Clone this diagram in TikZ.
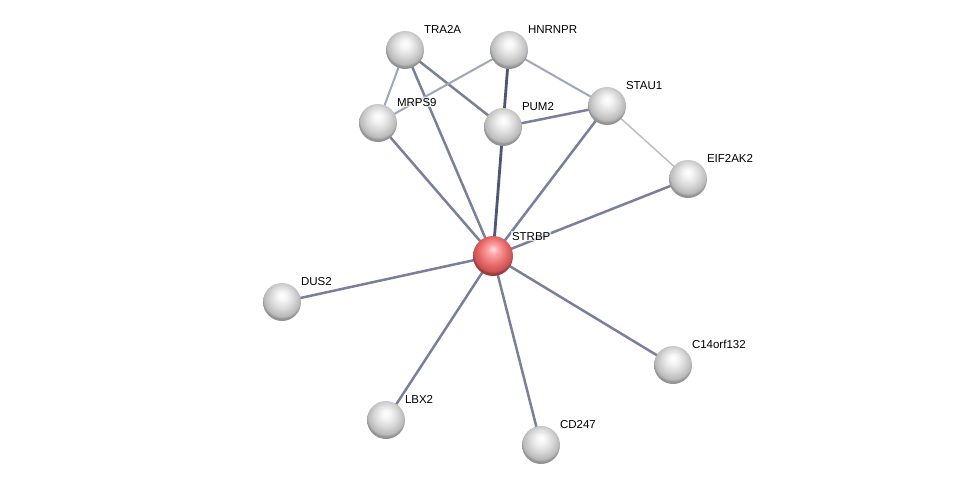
\documentclass[tikz,border=0pt]{standalone}
\usepackage{fontspec}
\setmainfont{Liberation Sans}
\pgfdeclareradialshading{glassgray}{\pgfpoint{0bp}{9bp}}{color(0bp)=(white); color(6bp)=(white!96!black); color(16bp)=(black!16); color(24bp)=(black!28); color(26bp)=(black!42); color(50bp)=(black!45)}
\pgfdeclareradialshading{glassred}{\pgfpoint{0bp}{9bp}}{color(0bp)=(red!12!white); color(6bp)=(red!35!white); color(16bp)=(red!52!white!92!black); color(24bp)=(red!60!white!80!black); color(26bp)=(red!60!white!60!black); color(50bp)=(red!60!white!55!black)}
\begin{document}
\begin{tikzpicture}[x=1pt,y=-1pt,
  prot/.style={circle,minimum size=38pt,inner sep=0pt,shading=glassgray},
  seed/.style={circle,minimum size=40pt,inner sep=0pt,shading=glassred},
  lab/.style={anchor=base west,inner sep=0.8pt,fill=white,fill opacity=0.7,text opacity=1,font=\fontsize{11.5}{13}\selectfont},
  strong/.style={draw={rgb,255:red,78;green,85;blue,118},line width=2.8pt},
  mid/.style={draw={rgb,255:red,122;green,128;blue,156},line width=2.5pt},
  weak/.style={draw={rgb,255:red,160;green,166;blue,186},line width=2pt},
  faint/.style={draw={rgb,255:red,185;green,188;blue,198},line width=1.4pt}]
\useasboundingbox (0,0) rectangle (975,491);
\fill[white] (0,0) rectangle (975,491);
\coordinate (cTRA2A) at (405,50);
\coordinate (cHNRNPR) at (509,50);
\coordinate (cMRPS9) at (378,123);
\coordinate (cPUM2) at (503,127);
\coordinate (cSTAU1) at (607,106);
\coordinate (cEIF2AK2) at (688,179);
\coordinate (cSTRBP) at (493,256);
\coordinate (cDUS2) at (282,302);
\coordinate (cC14) at (673,365);
\coordinate (cLBX2) at (386,420);
\coordinate (cCD247) at (541,445);
% edges
\draw[weak] (cTRA2A) -- (cMRPS9);
\draw[mid] (cTRA2A) -- (cPUM2);
\draw[mid] (cTRA2A) -- (cSTRBP);
\draw[weak] (cHNRNPR) -- (cMRPS9);
\draw[strong] (cHNRNPR) -- (cPUM2);
\draw[weak] (cHNRNPR) -- (cSTAU1);
\draw[mid] (cMRPS9) -- (cSTRBP);
\draw[mid] (cPUM2) -- (cSTAU1);
\draw[strong] (cPUM2) -- (cSTRBP);
\draw[mid] (cSTAU1) -- (cSTRBP);
\draw[faint] (cSTAU1) -- (cEIF2AK2);
\draw[mid] (cEIF2AK2) -- (cSTRBP);
\draw[mid] (cDUS2) -- (cSTRBP);
\draw[mid] (cC14) -- (cSTRBP);
\draw[mid] (cLBX2) -- (cSTRBP);
\draw[mid] (cCD247) -- (cSTRBP);
% nodes
\node[prot] (TRA2A) at (cTRA2A) {};
\node[prot] (HNRNPR) at (cHNRNPR) {};
\node[prot] (MRPS9) at (cMRPS9) {};
\node[prot] (PUM2) at (cPUM2) {};
\node[prot] (STAU1) at (cSTAU1) {};
\node[prot] (EIF2AK2) at (cEIF2AK2) {};
\node[seed] (STRBP) at (cSTRBP) {};
\node[prot] (DUS2) at (cDUS2) {};
\node[prot] (C14) at (cC14) {};
\node[prot] (LBX2) at (cLBX2) {};
\node[prot] (CD247) at (cCD247) {};
% labels
\node[lab] (lTRA2A) at ([shift={(18,-17)}]cTRA2A) {TRA2A};
\node[lab] (lHNRNPR) at ([shift={(18,-17)}]cHNRNPR) {HNRNPR};
\node[lab] (lMRPS9) at ([shift={(18,-17)}]cMRPS9) {MRPS9};
\node[lab] (lPUM2) at ([shift={(18,-17)}]cPUM2) {PUM2};
\node[lab] (lSTAU1) at ([shift={(18,-17)}]cSTAU1) {STAU1};
\node[lab] (lEIF2AK2) at ([shift={(18,-17)}]cEIF2AK2) {EIF2AK2};
\node[lab] (lSTRBP) at ([shift={(18,-16)}]cSTRBP) {STRBP};
\node[lab] (lDUS2) at ([shift={(18,-17)}]cDUS2) {DUS2};
\node[lab] (lC14) at ([shift={(18,-17)}]cC14) {C14orf132};
\node[lab] (lLBX2) at ([shift={(18,-17)}]cLBX2) {LBX2};
\node[lab] (lCD247) at ([shift={(18,-17)}]cCD247) {CD247};
\end{tikzpicture}
\end{document}
